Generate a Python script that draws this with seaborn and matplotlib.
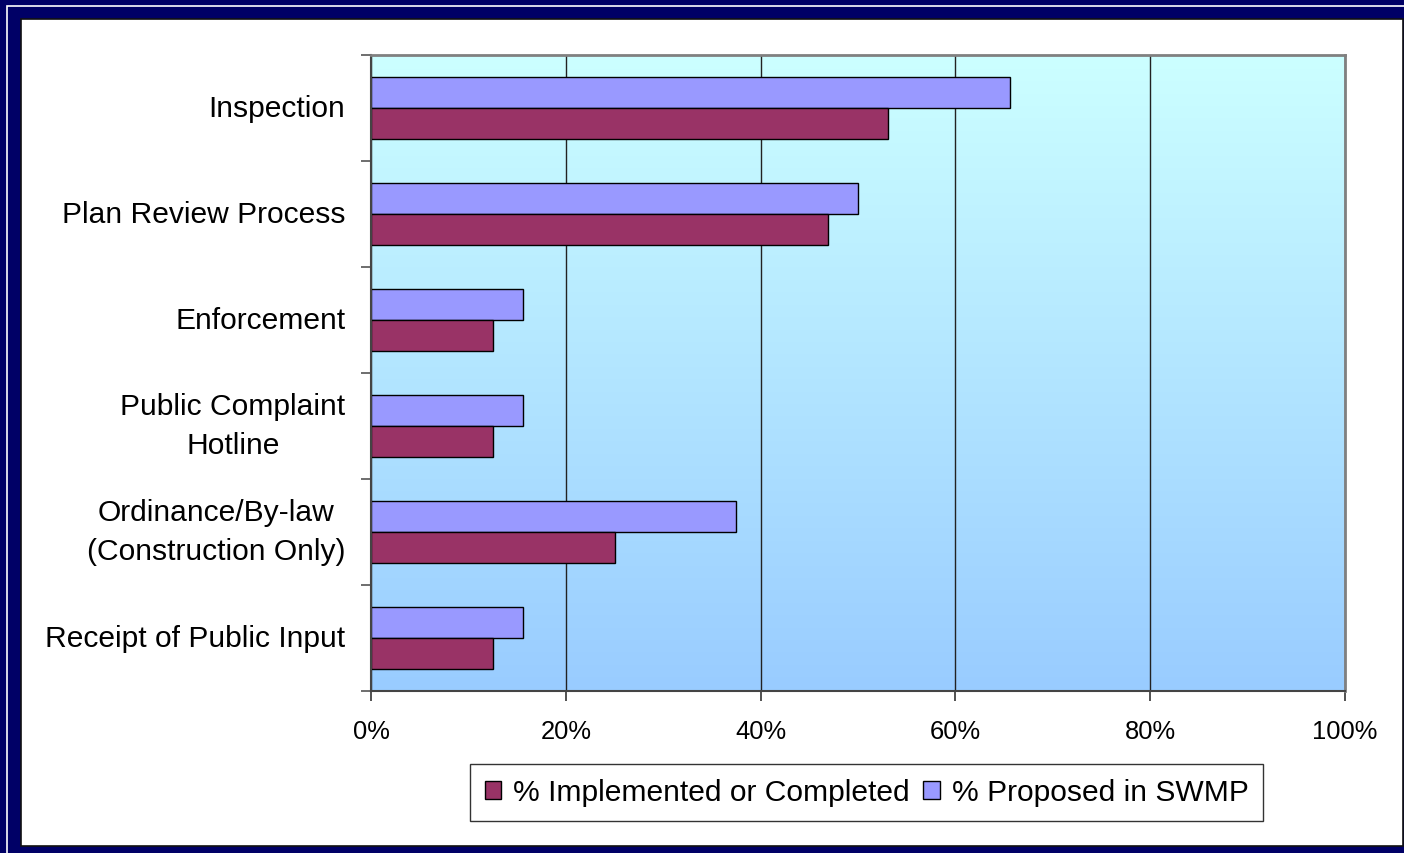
import numpy as np
import pandas as pd
import matplotlib.pyplot as plt
import seaborn as sns
from matplotlib.patches import Rectangle
from matplotlib.colors import LinearSegmentedColormap

sns.set_theme(style="white")
plt.rcParams['font.family'] = ['Liberation Sans', 'DejaVu Sans']
plt.rcParams['text.color'] = 'black'
plt.rcParams['xtick.color'] = 'black'
plt.rcParams['ytick.color'] = 'black'

categories = ["Inspection", "Plan Review Process", "Enforcement",
              "Public Complaint\nHotline", "Ordinance/By-law\n(Construction Only)",
              "Receipt of Public Input"]
implemented = [53.1, 46.9, 12.5, 12.5, 25.0, 12.5]
proposed = [65.6, 50.0, 15.6, 15.6, 37.5, 15.6]
series_names = ["% Implemented or Completed", "% Proposed in SWMP"]
series_colors = ["#993366", "#9999FF"]
x_ticks = [0, 20, 40, 60, 80, 100]

df = pd.DataFrame({
    "Category": categories * 2,
    "Value": implemented + proposed,
    "Series": [series_names[0]] * len(categories) + [series_names[1]] * len(categories),
})

W, H = 1404, 854
fig = plt.figure(figsize=(W / 100, H / 100), dpi=100)
fig.patch.set_facecolor("#000066")

# frame: thin white line inside the navy border, then white panel
fig.patches.append(Rectangle((7 / W, -0.5), 2, 1 - 6.5 / H + 0.5, transform=fig.transFigure,
                             fill=False, edgecolor="white", linewidth=1.2, zorder=-10))
fig.patches.append(Rectangle((21 / W, 1 - 847 / H), (1403 - 21) / W, (847 - 20) / H,
                             transform=fig.transFigure, facecolor="white",
                             edgecolor="#111111", linewidth=1.2, zorder=-9))

ax = fig.add_axes([371 / W, 1 - 692 / H, (1345 - 371) / W, (692 - 56) / H])

# vertical gradient fill of the plot area
cmap = LinearSegmentedColormap.from_list("bg", ["#99CCFF", "#CCFFFF"])
grad = np.linspace(0, 1, 256).reshape(-1, 1)
ax.imshow(grad, cmap=cmap, origin="lower", aspect="auto", extent=[0, 1, 0, 1],
          transform=ax.transAxes, zorder=0)

sns.barplot(data=df, y="Category", x="Value", hue="Series",
            hue_order=[series_names[1], series_names[0]],
            palette=dict(zip(series_names, series_colors)),
            order=categories, orient="h", width=0.58, saturation=1,
            edgecolor="black", linewidth=1, ax=ax, zorder=2)

handles, labels = ax.get_legend_handles_labels()
if ax.get_legend() is not None:
    ax.get_legend().remove()

ax.set_xlim(0, 100)
ax.set_ylim(5.5, -0.5)
ax.set_xticks(x_ticks)
ax.set_xticklabels([f"{t}%" for t in x_ticks], fontsize=18.4, color="black")
ax.set_yticks(range(len(categories)))
ax.set_yticklabels(categories, fontsize=21.6, ha="right", va="center",
                   multialignment="center", linespacing=1.5, color="black")
ax.set_yticks(np.arange(-0.5, len(categories), 1), minor=True)
ax.tick_params(axis="y", which="major", length=0, pad=18.5)
ax.tick_params(axis="y", which="minor", length=7, width=1.2, color="#555555", direction="out", left=True)
ax.tick_params(axis="x", which="major", length=7, width=1.2, color="#333333", direction="out",
               bottom=True, pad=13)
ax.set_xlabel("")
ax.set_ylabel("")

ax.grid(axis="x", color="#222222", linewidth=1.0, zorder=1)
ax.grid(axis="y", visible=False)
ax.set_axisbelow(True)

ax.spines["left"].set_color("#444444")
ax.spines["left"].set_linewidth(1.5)
ax.spines["bottom"].set_color("#444444")
ax.spines["bottom"].set_linewidth(1.5)
for s in ["top", "right"]:
    ax.spines[s].set_color("#808080")
    ax.spines[s].set_linewidth(2)

order = [labels.index(n) for n in series_names]
leg = fig.legend([handles[i] for i in order], [labels[i] for i in order],
                 loc="center", bbox_to_anchor=(866.5 / W, 1 - 793.5 / H),
                 ncol=2, fontsize=21.6, frameon=True, fancybox=False, shadow=False,
                 handlelength=0.55, handleheight=0.55, handletextpad=0.4,
                 columnspacing=0.45, borderpad=0.47, borderaxespad=0)
leg.get_frame().set_edgecolor("black")
leg.get_frame().set_linewidth(1.0)
leg.get_frame().set_facecolor("white")
for t in leg.get_texts():
    t.set_color("black")

fig.savefig("out.png", dpi=100, facecolor=fig.get_facecolor())
